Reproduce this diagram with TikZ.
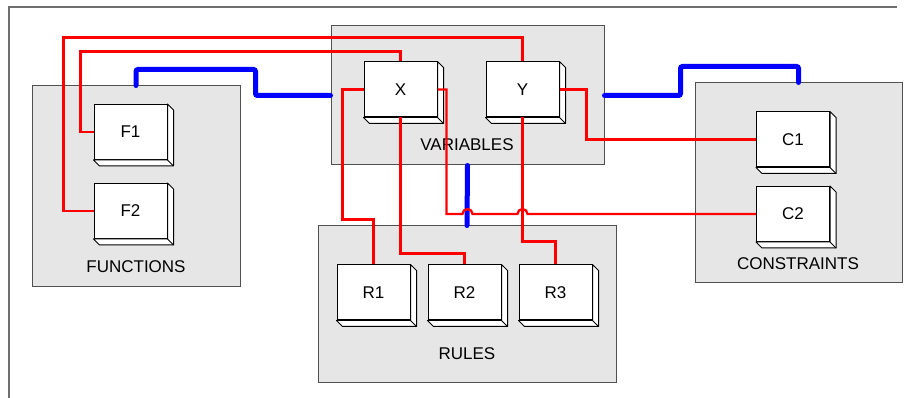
\documentclass[tikz,border=0pt]{standalone}
\usepackage{fontspec}
\setmainfont{Liberation Sans}
\usetikzlibrary{calc}

\begin{document}
\begin{tikzpicture}[x=1pt, y=-1pt, font=\fontsize{17}{20}\selectfont,
  group/.style={draw=groupline, fill=groupfill, line width=1pt, inner sep=0pt},
  unit/.style={draw=black, fill=white, line width=1pt, minimum width=73pt, minimum height=55pt, inner sep=0pt},
  redlink/.style={draw=red, line width=2.3pt},
  buslink/.style={draw=blue, line width=5pt, line cap=round, rounded corners=2pt}]
\definecolor{groupfill}{HTML}{E6E6E6}
\definecolor{groupline}{HTML}{505050}
\definecolor{frameline}{HTML}{6E6E6E}
\useasboundingbox (0,0) rectangle (906,398);
\draw[frameline, line width=1.5pt] (897,7) -- (9,7) -- (9,398);
\node[group, minimum width=208pt, minimum height=201pt] (FUN) at (136,186.5) {};
\node[group, minimum width=273pt, minimum height=139pt] (VAR) at (467.5,95.5) {};
\node[group, minimum width=207pt, minimum height=200pt] (CON) at (798.5,183) {};
\node[group, minimum width=298pt, minimum height=157pt] (RUL) at (467,304.5) {};
\node (FUNlbl) at (136,267) {FUNCTIONS};
\node (VARlbl) at (467,145) {VARIABLES};
\node (CONlbl) at (798,264) {CONSTRAINTS};
\node (RULlbl) at (467,354) {RULES};
\foreach \n/\p in {F1/{(130.5,132)}, F2/{(130.5,211)}, X/{(400.5,89.5)}, Y/{(522.5,89.5)}, C1/{(793,139.5)}, C2/{(793,214)}, R1/{(373.5,292.5)}, R2/{(464.5,292.5)}, R3/{(555.5,292.5)}}{
  \node[unit] (\n) at \p {\n};
  \draw[fill=white, line width=1pt, line join=round] (\n.north east) -- ++(6,6) -- ($(\n.south east)+(6,6)$) -- ($(\n.south west)+(6,6)$) -- (\n.south west) -- (\n.south east) -- cycle;
  \draw[line width=1pt] (\n.south east) -- ++(6,6);
}
\draw[buslink] (FUN.north) -- ++(0,-16) -| ($(VAR.west)+(-75,0)$) -- (VAR.west);
\draw[buslink] (VAR.east) -- ++(76,0) |- ($(CON.north)+(0,-16)$) -- (CON.north);
\draw[buslink] (VAR.south) -- (RUL.north);
\draw[redlink] (Y.north) -- ++(0,-24) -| ($(F2.west)+(-30,0)$) -- (F2.west);
\draw[redlink] (X.north) -- ++(0,-10) -| ($(F1.west)+(-13,0)$) -- (F1.west);
\draw[redlink] (X.west) -- ++(-21,0) |- ($(R1.north)+(0,-45)$) -- (R1.north);
\draw[redlink] (X.south) |- ($(R2.north)+(0,-11)$) -- (R2.north);
\draw[redlink] (Y.south) |- ($(R3.north)+(0,-23)$) -- (R3.north);
\draw[redlink] (Y.east) -- ++(27,0) |- (C1.west);
\draw[redlink] (X.east) -- ++(9,0) |- ($(VAR.south |- C2.west)+(-5,0)$) arc[start angle=180, end angle=0, radius=5pt] -- ($(Y.south |- C2.west)+(-5,0)$) arc[start angle=180, end angle=0, radius=5pt] -- (C2.west);
\end{tikzpicture}
\end{document}
